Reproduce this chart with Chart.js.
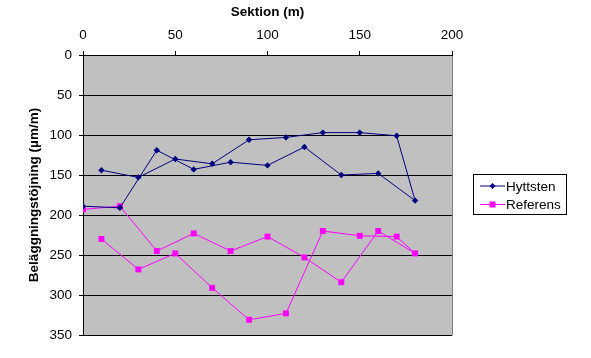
<!DOCTYPE html>
<html>
<head>
<meta charset="utf-8">
<script src="https://cdn.jsdelivr.net/npm/chart.js@4.4.0/dist/chart.umd.min.js"></script>
<style>
  html, body { margin: 0; padding: 0; background: #fff; }
  #wrap { width: 591px; height: 358px; }
</style>
</head>
<body>
<div id="wrap"><canvas id="chart" width="591" height="358"></canvas></div>
<script>
// Sektion (m) - mätningarna går fram och tillbaka längs sträckan
const sektion = [0, 20, 40, 60, 80, 100, 120, 140, 160, 180, 170, 150, 130, 110, 90, 70, 50, 30, 10];
const hyttsten = [189, 191, 119, 143, 134, 138, 115, 150, 148, 182, 101, 97, 97, 103, 106, 136, 130, 153, 144];
const referens = [193, 189, 245, 223, 245, 227, 253, 284, 220, 248, 227, 226, 220, 323, 331, 291, 248, 268, 230];
const xTicks = [0, 50, 100, 150, 200];
const yTicks = [0, 50, 100, 150, 200, 250, 300, 350];

function toPoints(ys) {
    return sektion.map(function (x, i) { return { x: x, y: ys[i] }; });
}

const family = 'Arial, "Liberation Sans", sans-serif';
const font = { family: family, size: 13.5 };
const boldFont = { family: family, size: 13.5, weight: 'bold' };

// grå plottyta med ram
const plotBg = {
    id: 'plotBg',
    beforeDraw(chart) {
        const a = chart.chartArea, ctx = chart.ctx;
        ctx.save();
        ctx.fillStyle = '#c0c0c0';
        ctx.fillRect(a.left, a.top, a.right - a.left, a.bottom - a.top);
        ctx.strokeStyle = '#808080';
        ctx.lineWidth = 1;
        ctx.beginPath();
        ctx.moveTo(a.right + 0.5, a.top);
        ctx.lineTo(a.right + 0.5, a.bottom + 0.5);
        ctx.lineTo(a.left, a.bottom + 0.5);
        ctx.stroke();
        ctx.restore();
    }
};

// förklaring till höger
const legendBox = {
    id: 'legendBox',
    afterDraw(chart) {
        const ctx = chart.ctx;
        const ds = chart.data.datasets;
        ctx.save();
        ctx.strokeStyle = '#000';
        ctx.lineWidth = 1;
        ctx.strokeRect(473.5, 174.5, 93, 40);
        ctx.font = '13.5px ' + family;
        ctx.textBaseline = 'middle';
        ds.forEach(function (d, i) {
            const y = 186 + i * 18.5;
            ctx.strokeStyle = d.borderColor;
            ctx.beginPath();
            ctx.moveTo(480, y);
            ctx.lineTo(505, y);
            ctx.stroke();
            ctx.fillStyle = d.backgroundColor;
            if (d.pointStyle === 'rect') {
                ctx.fillRect(489.5, y - 3, 6, 6);
            } else {
                ctx.beginPath();
                ctx.moveTo(492.5, y - 3);
                ctx.lineTo(495.5, y);
                ctx.lineTo(492.5, y + 3);
                ctx.lineTo(489.5, y);
                ctx.closePath();
                ctx.fill();
            }
            ctx.fillStyle = '#000';
            ctx.fillText(d.label, 506, y + 1);
        });
        ctx.restore();
    }
};

new Chart(document.getElementById('chart').getContext('2d'), {
    type: 'scatter',
    data: {
        datasets: [{
            label: 'Hyttsten',
            data: toPoints(hyttsten),
            showLine: true,
            borderColor: '#000080',
            backgroundColor: '#000080',
            borderWidth: 1,
            pointStyle: 'rectRot',
            pointRadius: 3.2,
            pointBorderWidth: 0
        }, {
            label: 'Referens',
            data: toPoints(referens),
            showLine: true,
            borderColor: '#ff00ff',
            backgroundColor: '#ff00ff',
            borderWidth: 1,
            pointStyle: 'rect',
            pointRadius: 4.2,
            pointBorderWidth: 0
        }]
    },
    options: {
        responsive: false,
        animation: false,
        layout: { padding: { left: 0, right: 139, top: 0, bottom: 23 } },
        plugins: {
            legend: { display: false },
            tooltip: { enabled: false }
        },
        scales: {
            x: {
                type: 'linear',
                position: 'top',
                min: 0,
                max: 200,
                afterBuildTicks: function (s) { s.ticks = xTicks.map(function (v) { return { value: v }; }); },
                afterFit: function (s) { s.height = 55; },
                ticks: { color: '#000', font: font, padding: 8 },
                grid: { drawOnChartArea: false, color: '#000', tickLength: 4 },
                border: { color: '#000' },
                title: {
                    display: true,
                    text: 'Sektion (m)',
                    color: '#000',
                    font: boldFont,
                    padding: { top: 4, bottom: 6 }
                }
            },
            y: {
                type: 'linear',
                reverse: true,
                min: 0,
                max: 350,
                afterBuildTicks: function (s) { s.ticks = yTicks.map(function (v) { return { value: v }; }); },
                afterFit: function (s) { s.width = 83; },
                ticks: { color: '#000', font: font, padding: 7 },
                grid: { color: '#000', tickLength: 4 },
                border: { color: '#000' },
                title: {
                    display: true,
                    text: 'Beläggningstöjning (µm/m)',
                    color: '#000',
                    font: boldFont,
                    padding: { top: 26, bottom: 6 }
                }
            }
        }
    },
    plugins: [plotBg, legendBox]
});
</script>
</body>
</html>
